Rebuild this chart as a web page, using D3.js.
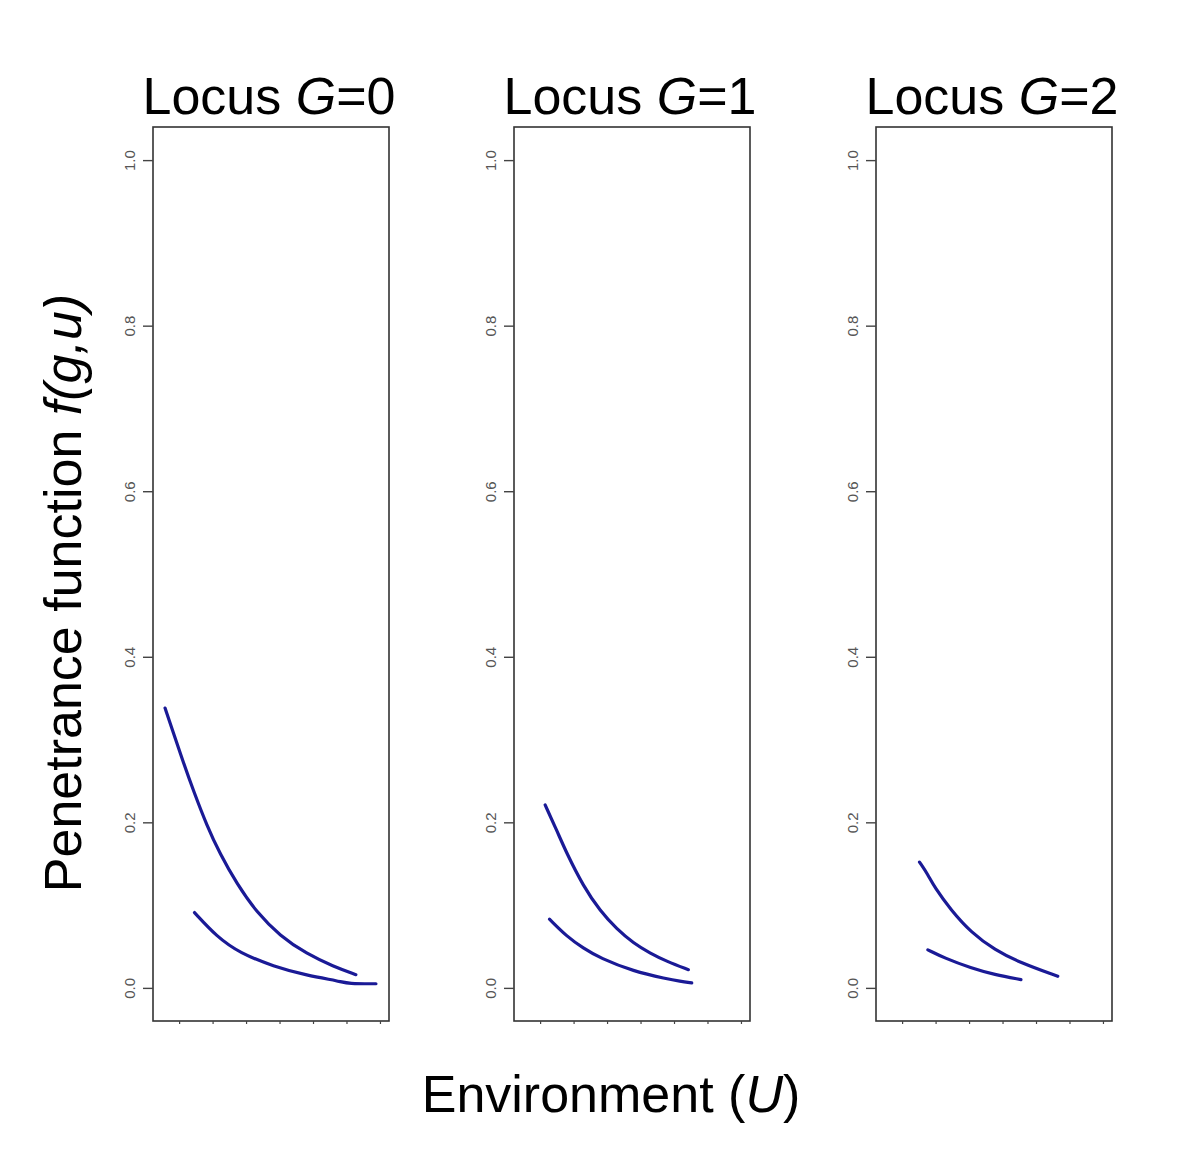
<!DOCTYPE html>
<html><head><meta charset="utf-8">
<script src="https://cdn.jsdelivr.net/npm/d3@7"></script>
<style>body{margin:0;background:#fff}svg{display:block}text{font-family:"Liberation Sans",Arial,sans-serif}</style>
</head><body>
<script>
// ---- data ----
const panels = ["0", "1", "2"];
const yTicks = [0, 0.2, 0.4, 0.6, 0.8, 1.0];
const xTicks = [0, 1, 2, 3, 4, 5, 6];

const g0UpperU = [-0.42, -0.17, 0.13, 0.43, 0.83, 1.22, 1.72, 2.32, 3.01, 3.81, 4.61, 5.28];
const g0UpperF = [0.338, 0.308, 0.272, 0.238, 0.196, 0.162, 0.126, 0.091, 0.063, 0.041, 0.026, 0.016];
const g0LowerU = [0.46, 1.12, 1.82, 2.82, 3.81, 4.81, 5.05, 5.88];
const g0LowerF = [0.091, 0.062, 0.042, 0.026, 0.015, 0.008, 0.005, 0.005];

const g1UpperU = [0.15, 0.50, 0.80, 1.29, 1.79, 2.29, 2.79, 3.28, 3.78, 4.43];
const g1UpperF = [0.221, 0.190, 0.162, 0.123, 0.093, 0.071, 0.054, 0.042, 0.032, 0.022];
const g1LowerU = [0.28, 0.80, 1.29, 1.79, 2.79, 3.78, 4.18, 4.53];
const g1LowerF = [0.083, 0.062, 0.048, 0.036, 0.020, 0.011, 0.008, 0.006];

const g2UpperU = [0.52, 0.77, 0.96, 1.46, 2.06, 2.76, 3.55, 4.65];
const g2UpperF = [0.152, 0.137, 0.122, 0.094, 0.067, 0.046, 0.030, 0.014];
const g2LowerU = [0.77, 1.27, 2.06, 2.76, 3.55];
const g2LowerF = [0.046, 0.036, 0.024, 0.016, 0.010];

const curves = [
  [[g0UpperU, g0UpperF], [g0LowerU, g0LowerF]],
  [[g1UpperU, g1UpperF], [g1LowerU, g1LowerF]],
  [[g2UpperU, g2UpperF], [g2LowerU, g2LowerF]]
];

// ---- layout ----
const W = 1200, H = 1173;
const lefts = [153, 514, 876];
const pw = 236, plotTop = 127, plotBottom = 1021;
const lineColor = "#1a1a96";

const svg = d3.select("body").append("svg").attr("width", W).attr("height", H);
const y = d3.scaleLinear().domain([-0.04, 1.04]).range([plotBottom, plotTop]);

panels.forEach((p, i) => {
  const left = lefts[i];
  const x = d3.scaleLinear().domain([-0.78, 6.27]).range([left, left + pw]);
  const g = svg.append("g");

  // curves
  const line = d3.line().x(d => x(d[0])).y(d => y(d[1])).curve(d3.curveBasis);
  curves[i].forEach(([us, fs]) => {
    g.append("path").datum(us.map((u, k) => [u, fs[k]]))
      .attr("d", line).attr("fill", "none")
      .attr("stroke", lineColor).attr("stroke-width", 3.2)
      .attr("stroke-linecap", "round").attr("stroke-linejoin", "round");
  });

  // frame
  g.append("rect").attr("x", left).attr("y", plotTop).attr("width", pw).attr("height", plotBottom - plotTop)
    .attr("fill", "none").attr("stroke", "#333").attr("stroke-width", 1.6);

  // y axis
  const ya = g.append("g").attr("transform", `translate(${left},0)`)
    .call(d3.axisLeft(y).tickValues(yTicks).tickSize(10).tickFormat(d3.format(".1f")));
  ya.select(".domain").remove();
  ya.selectAll(".tick line").attr("stroke", "#444").attr("stroke-width", 1.4);
  ya.selectAll(".tick text")
    .attr("x", null).attr("dy", null)
    .attr("transform", "translate(-18,0) rotate(-90)")
    .attr("text-anchor", "middle")
    .attr("font-size", 15).attr("fill", "#555")
    .style("font-family", "'Liberation Sans',Arial,sans-serif");

  // x axis (ticks only)
  const xa = g.append("g").attr("transform", `translate(0,${plotBottom})`)
    .call(d3.axisBottom(x).tickValues(xTicks).tickSize(3).tickFormat(""));
  xa.select(".domain").remove();
  xa.selectAll(".tick line").attr("stroke", "#444").attr("stroke-width", 1.2);

  // title
  const t = svg.append("text").attr("x", left + pw / 2 - 2).attr("y", 114)
    .attr("text-anchor", "middle").attr("font-size", 52).attr("fill", "#000");
  t.append("tspan").text("Locus ");
  t.append("tspan").attr("font-style", "italic").text("G");
  t.append("tspan").text("=" + p);
});

// axis titles
const xl = svg.append("text").attr("x", 611).attr("y", 1112).attr("text-anchor", "middle")
  .attr("font-size", 52).attr("fill", "#000");
xl.append("tspan").text("Environment (");
xl.append("tspan").attr("font-style", "italic").text("U");
xl.append("tspan").text(")");

const yl = svg.append("text").attr("transform", "translate(81,593) rotate(-90)")
  .attr("text-anchor", "middle").attr("font-size", 52).attr("fill", "#000");
yl.append("tspan").text("Penetrance function ");
yl.append("tspan").attr("font-style", "italic").text("f(g,u)");
</script>
</body></html>
